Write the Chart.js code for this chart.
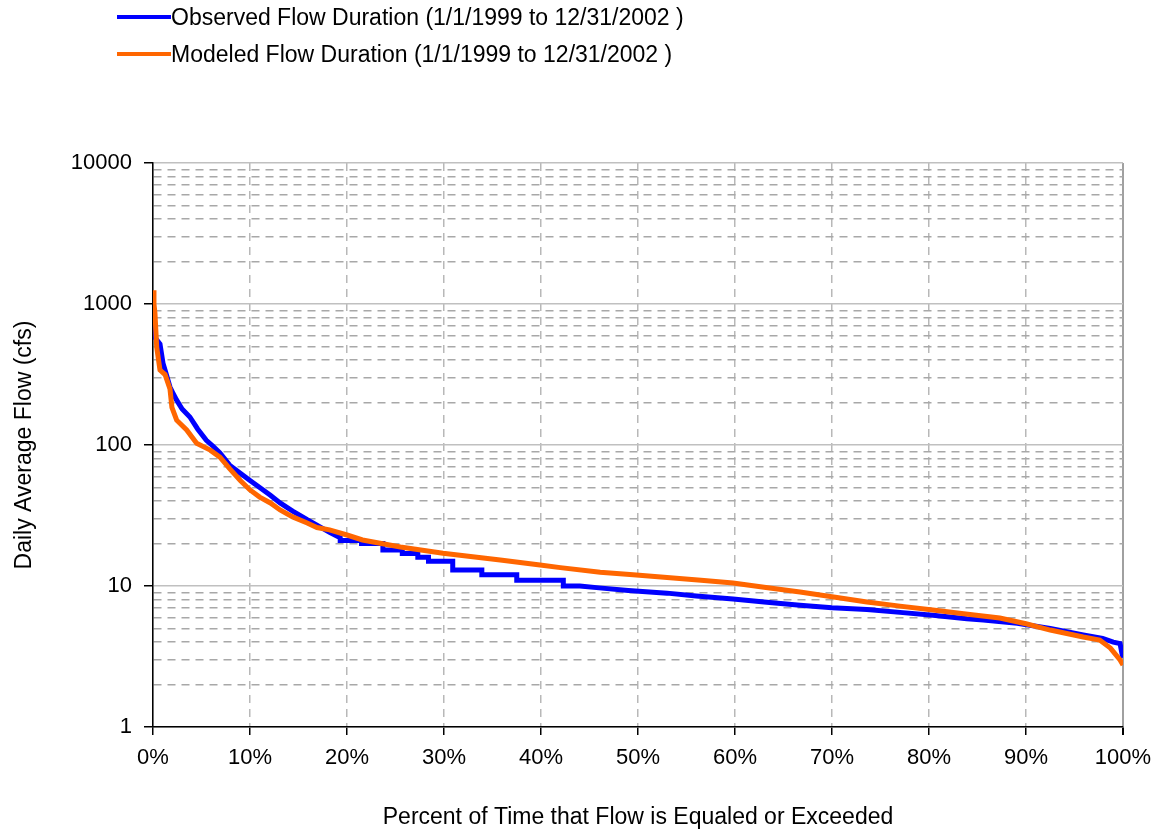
<!DOCTYPE html>
<html>
<head>
<meta charset="utf-8">
<script src="https://cdn.jsdelivr.net/npm/chart.js@4"></script>
<style>
  html, body { margin: 0; padding: 0; background: #fff; }
  #wrap { position: relative; width: 1162px; height: 835px; }
  #legend { position: absolute; left: 117px; top: 2px; font-family: "Liberation Sans", Arial, sans-serif; font-size: 23px; color: #000; }
  .item { position: absolute; left: 0; white-space: nowrap; display: flex; align-items: center; height: 30px; }
  .swatch { width: 54px; height: 4px; margin-right: 0px; }
</style>
</head>
<body>
<div id="wrap">
  <canvas id="flowChart" width="1162" height="835"></canvas>
  <div id="legend"></div>
</div>
<script>
// Observed flow duration (percent exceeded, cfs)
const obsPct = [0, 0.1, 0.2, 0.5, 0.72, 1.03, 1.3, 1.75, 2.1, 2.44, 3.0, 3.8, 4.6, 5.5, 6.2, 6.9, 7.9, 9.0,
  10.0, 11.0, 12.1, 13.1, 14.4, 15.9, 16.9, 18.2, 19.3,
  19.3, 21.5, 21.5, 23.7, 23.7, 25.7, 25.7, 27.3, 27.3, 28.4, 28.4, 30.9, 30.9, 33.9, 33.9, 37.5, 37.5, 42.3, 42.3, 44.0,
  46.0, 49.0, 53.0, 56.0, 59.8, 63.0, 66.7, 70.0, 73.6, 77.0, 80.4, 83.9, 85.6, 89.1, 92.5, 95.9, 97.9, 99.0, 99.7, 99.9, 100];
const obsFlow = [800, 650, 580, 545, 520, 380, 330, 258, 230, 208, 180, 158, 130, 108, 98, 88, 72, 63,
  56, 50, 44, 38.8, 34, 29.5, 27, 24, 22,
  21, 21, 20, 20, 18, 18, 17, 17, 16, 16, 15, 15, 13, 13, 12, 12, 11, 11, 10, 10,
  9.7, 9.3, 8.9, 8.5, 8.1, 7.7, 7.3, 7.0, 6.8, 6.5, 6.2, 5.85, 5.75, 5.45, 5.0, 4.5, 4.25, 4.0, 3.9, 3.3, 3.1];

// Modeled flow duration
const modPct = [0, 0.1, 0.2, 0.38, 0.72, 1.24, 1.75, 1.95, 2.44, 3.47, 4.5, 5.9, 6.9, 7.9, 9.0,
  10.0, 11.0, 12.1, 13.1, 14.4, 15.9, 16.9, 18.2, 20.0, 21.6, 25.5, 29.9, 35.8, 39.9, 42.0,
  46.1, 49.5, 53.0, 56.5, 59.8, 63.0, 66.7, 70.0, 73.6, 77.0, 80.4, 84.0, 87.3, 90.0, 92.5, 95.9, 97.6, 98.7, 99.7, 100];
const modFlow = [1250, 1000, 863, 495, 340, 316, 250, 185, 150, 128, 103, 92, 82, 68, 56,
  48, 42.7, 38.8, 34.6, 30.9, 28, 26, 25, 23, 21.2, 18.9, 17.1, 15.3, 14.1, 13.5,
  12.5, 12.0, 11.5, 11.0, 10.5, 9.8, 9.07, 8.4, 7.7, 7.2, 6.76, 6.3, 5.93, 5.4, 4.87, 4.35, 4.14, 3.63, 2.99, 2.75];

const xTicks = [0, 10, 20, 30, 40, 50, 60, 70, 80, 90, 100];
const yMajor = [1, 10, 100, 1000, 10000];
const yMinorSteps = [2, 3, 4, 5, 6, 7, 8, 9];

const yTickValues = [];
yMajor.forEach(function(m) {
  yTickValues.push(m);
  if (m < 10000) yMinorSteps.forEach(s => yTickValues.push(m * s));
});

const FONT = '"Liberation Sans", Arial, sans-serif';
Chart.defaults.font.family = FONT;
Chart.defaults.color = '#000';

const datasets = [
  {
    label: 'Observed Flow Duration (1/1/1999 to 12/31/2002 )',
    data: obsPct.map((p, i) => ({ x: p, y: obsFlow[i] })),
    borderColor: '#0000ff',
    borderWidth: 5,
    order: 2
  },
  {
    label: 'Modeled Flow Duration (1/1/1999 to 12/31/2002 )',
    data: modPct.map((p, i) => ({ x: p, y: modFlow[i] })),
    borderColor: '#ff6600',
    borderWidth: 5,
    order: 1
  }
];

// legend built from the datasets
const legend = document.getElementById('legend');
datasets.forEach(function(ds, i) {
  const item = document.createElement('div');
  item.className = 'item';
  item.style.top = (i * 37) + 'px';
  const sw = document.createElement('span');
  sw.className = 'swatch';
  sw.style.background = ds.borderColor;
  const txt = document.createElement('span');
  txt.textContent = ds.label;
  item.appendChild(sw);
  item.appendChild(txt);
  legend.appendChild(item);
});

const isMajor = v => yMajor.includes(v);

new Chart(document.getElementById('flowChart'), {
  type: 'line',
  data: { datasets: datasets },
  options: {
    responsive: false,
    animation: false,
    devicePixelRatio: 1,
    layout: { padding: { top: 163, right: 39, left: 0, bottom: 0 } },
    elements: { point: { radius: 0 }, line: { tension: 0 } },
    plugins: { legend: { display: false }, tooltip: { enabled: false } },
    scales: {
      x: {
        type: 'linear',
        min: 0,
        max: 100,
        afterBuildTicks: s => { s.ticks = xTicks.map(v => ({ value: v })); },
        afterFit: s => { s.height = 108; },
        ticks: {
          autoSkip: false,
          maxRotation: 0,
          padding: 10,
          font: { size: 22 },
          callback: v => v + '%'
        },
        grid: {
          color: ctx => (ctx.tick && ctx.tick.value === 100) ? '#a0a0a0' : '#b8b8b8',
          lineWidth: ctx => (ctx.tick && ctx.tick.value === 100) ? 2 : 1.5,
          tickColor: '#000',
          tickLength: 8
        },
        border: {
          color: '#000',
          width: 1.5,
          dash: ctx => (ctx.tick && ctx.tick.value > 0 && ctx.tick.value < 100) ? [8, 6] : []
        },
        title: {
          display: true,
          text: 'Percent of Time that Flow is Equaled or Exceeded',
          font: { size: 23 },
          padding: { top: 0, bottom: 4 }
        }
      },
      y: {
        type: 'logarithmic',
        min: 1,
        max: 10000,
        afterBuildTicks: s => { s.ticks = yTickValues.map(v => ({ value: v, major: isMajor(v) })); },
        afterFit: s => { s.width = 153; },
        ticks: {
          autoSkip: false,
          padding: 12,
          font: { size: 22 },
          callback: v => isMajor(v) ? String(v) : ''
        },
        grid: {
          color: ctx => (ctx.tick && isMajor(ctx.tick.value)) ? '#c0c0c0' : '#a8a8a8',
          lineWidth: 1.5,
          tickColor: ctx => (ctx.tick && isMajor(ctx.tick.value)) ? '#000' : 'rgba(0,0,0,0)',
          tickLength: 9
        },
        border: {
          color: '#000',
          width: 1.5,
          dash: ctx => (ctx.tick && !isMajor(ctx.tick.value)) ? [8, 6] : []
        },
        title: {
          display: true,
          text: 'Daily Average Flow (cfs)',
          font: { size: 23 },
          padding: { top: 11, bottom: 0 }
        }
      }
    }
  }
});
</script>
</body>
</html>
